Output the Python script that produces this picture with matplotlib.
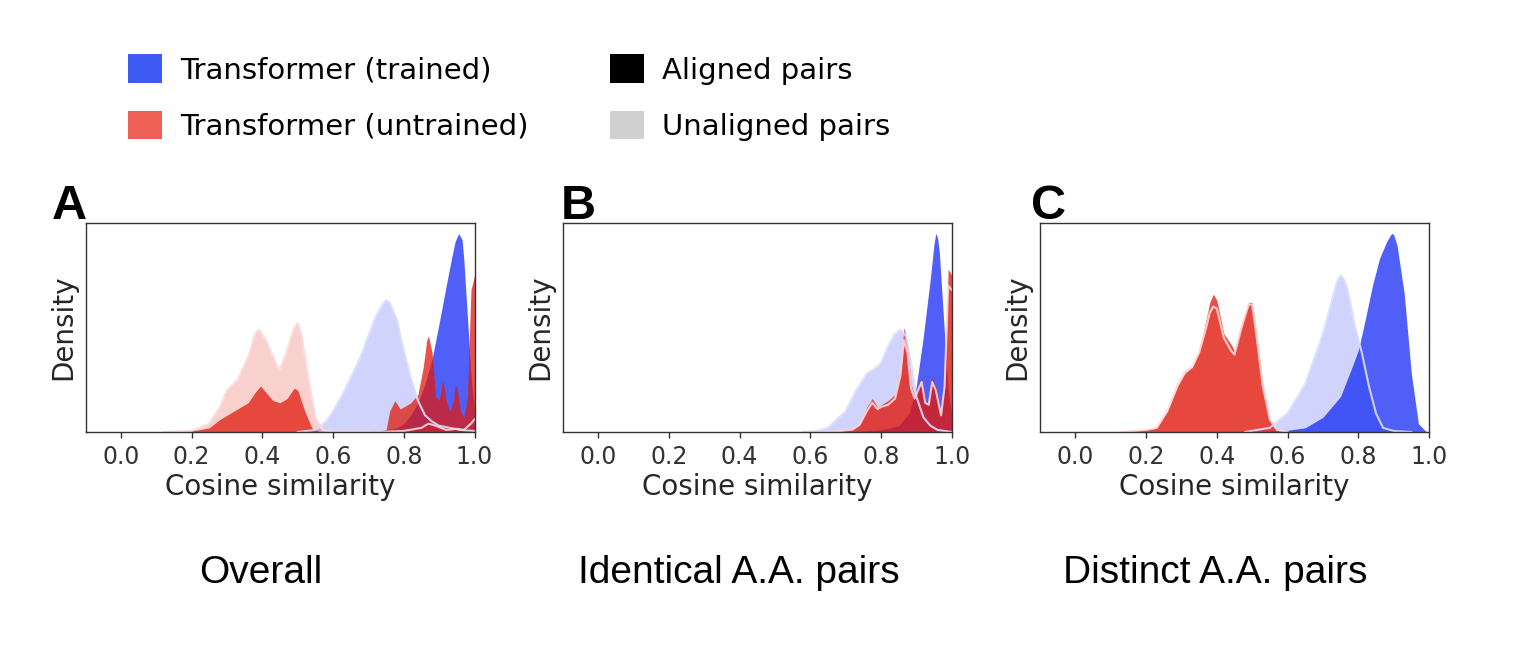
import matplotlib
matplotlib.use("Agg")
import matplotlib.pyplot as plt
from matplotlib.patches import Patch

# density curves, heights as % of axis height
# panel A: overall
a_trained_aligned_x = [0.62, 0.70, 0.74, 0.78, 0.80, 0.82, 0.84, 0.86, 0.88, 0.90, 0.92, 0.935, 0.945, 0.955, 0.965, 0.97, 0.98, 0.99, 1.0]
a_trained_aligned_y = [0, 0.3, 0.8, 2, 4, 8, 14, 23, 35, 52, 70, 83, 91, 95, 92, 82, 55, 28, 10]
a_trained_unaligned_x = [0.50, 0.55, 0.58, 0.60, 0.63, 0.65, 0.68, 0.70, 0.72, 0.74, 0.75, 0.76, 0.78, 0.80, 0.82, 0.84, 0.86, 0.88, 0.90, 0.93, 0.96, 1.0]
a_trained_unaligned_y = [0, 1, 5, 10, 19, 26, 37, 46, 55, 61, 63, 62, 54, 39, 26, 15, 8, 5, 3, 2, 1, 0.5]
a_untrained_aligned_x = [0.12, 0.18, 0.22, 0.25, 0.28, 0.30, 0.33, 0.36, 0.38, 0.395, 0.41, 0.43, 0.45, 0.47, 0.49, 0.50, 0.52, 0.54, 0.56, 0.60,
                         0.70, 0.74, 0.75, 0.76, 0.775, 0.79, 0.80, 0.82, 0.84, 0.855, 0.865, 0.87, 0.88, 0.89, 0.90, 0.91, 0.92, 0.93,
                         0.94, 0.945, 0.95, 0.96, 0.97, 0.98, 0.99, 1.0]
a_untrained_aligned_y = [0, 0.3, 1, 2, 6, 8, 11, 14, 19, 22, 19, 15, 14, 16, 21, 20, 10, 2, 0.3, 0,
                         0.2, 0.5, 1, 10, 15, 11, 12, 14, 18, 31, 44, 46, 38, 17, 15, 25, 15, 10,
                         14, 22, 22, 10, 7, 17, 68, 75]
a_untrained_unaligned_x = [0.12, 0.20, 0.25, 0.28, 0.30, 0.33, 0.36, 0.38, 0.39, 0.41, 0.44, 0.45, 0.47, 0.49, 0.50, 0.51, 0.53, 0.55, 0.57, 0.60,
                           0.75, 0.80, 0.85, 0.87, 0.89, 0.92, 0.95, 0.97, 0.99, 1.0]
a_untrained_unaligned_y = [0, 0.5, 4, 12, 20, 25, 36, 47, 49, 44, 32, 30, 39, 50, 52, 47, 26, 7, 1, 0,
                           0.2, 0.5, 2, 4, 3, 1, 1.5, 1, 4, 6]

# panel B: identical A.A. pairs
b_trained_aligned_x = [0.70, 0.75, 0.80, 0.85, 0.88, 0.90, 0.92, 0.94, 0.95, 0.955, 0.96, 0.965, 0.98, 0.99, 1.0]
b_trained_aligned_y = [0, 0.5, 1, 3, 9, 22, 46, 74, 90, 95, 93, 86, 46, 20, 8]
b_trained_unaligned_x = [0.58, 0.62, 0.65, 0.70, 0.73, 0.76, 0.78, 0.80, 0.82, 0.84, 0.855, 0.87, 0.88, 0.90, 0.92, 0.94, 0.96, 1.0]
b_trained_unaligned_y = [0, 0.5, 2, 10, 20, 28, 30, 33, 41, 47, 49, 46, 38, 17, 7, 3, 1, 0]
b_untrained_x = [0.62, 0.68, 0.72, 0.74, 0.76, 0.775, 0.79, 0.80, 0.82, 0.84, 0.855, 0.865, 0.875, 0.885, 0.895, 0.905,
                 0.915, 0.925, 0.935, 0.945, 0.955, 0.97, 0.98, 0.99, 1.0]
b_untrained_aligned_y = [0, 0.5, 1.5, 4, 12, 16, 12, 13, 15, 18, 30, 50, 42, 23, 17, 22,
                         26, 15, 14, 26, 22, 9, 26, 78, 75]
b_untrained_unaligned_y = [0, 0.4, 1.2, 3.5, 10, 14, 11, 12, 13, 16, 27, 44, 38, 21, 16, 20,
                           24, 14, 13, 24, 20, 8, 22, 70, 68]

# panel C: distinct A.A. pairs
c_trained_aligned_x = [0.50, 0.60, 0.65, 0.70, 0.75, 0.78, 0.80, 0.82, 0.84, 0.86, 0.88, 0.89, 0.895, 0.90, 0.91, 0.93, 0.95, 0.97, 0.99, 1.0]
c_trained_aligned_y = [0, 0.8, 2, 7, 17, 30, 39, 54, 70, 83, 91, 94, 95, 94.5, 89, 66, 28, 4, 0.5, 0]
c_trained_unaligned_x = [0.48, 0.55, 0.60, 0.65, 0.70, 0.73, 0.74, 0.75, 0.76, 0.77, 0.79, 0.81, 0.83, 0.85, 0.87, 0.90, 0.95]
c_trained_unaligned_y = [0, 2, 9, 23, 47, 66, 72, 75, 73, 68, 51, 38, 22, 9, 2, 0.5, 0]
c_untrained_x = [0.13, 0.20, 0.23, 0.26, 0.29, 0.31, 0.33, 0.35, 0.37, 0.38, 0.39, 0.40, 0.42, 0.44, 0.45, 0.47, 0.49,
                 0.50, 0.51, 0.53, 0.55, 0.57, 0.60]
c_untrained_aligned_y = [0, 1, 2, 10, 22, 28, 31, 39, 54, 62, 66, 63, 47, 42, 39, 52, 62, 62, 50, 23, 6, 1, 0]
c_untrained_unaligned_y = [0, 1, 2, 10, 23, 29, 31, 38, 50, 57, 60, 59, 45, 39, 37, 50, 61, 61, 49, 22, 6, 1, 0]

panel_letters = ["A", "B", "C"]
panel_titles = ["Overall", "Identical A.A. pairs", "Distinct A.A. pairs"]
legend_labels = ["Transformer (trained)", "Transformer (untrained)", "Aligned pairs", "Unaligned pairs"]
xticks = [0.0, 0.2, 0.4, 0.6, 0.8, 1.0]

BLUE = (0.08, 0.16, 0.96)
RED = (0.88, 0.10, 0.05)


def draw_panel(ax, curves):
    # curves: (x, y, color, aligned) drawn in order
    for x, y, color, aligned in curves:
        if aligned:
            ax.fill_between(x, y, color=color, alpha=0.75, linewidth=0)
        else:
            ax.fill_between(x, y, color=color, alpha=0.2, linewidth=0)
            edge = (1, 0.85, 0.85) if color == RED else (0.86, 0.87, 1)
            ax.plot(x, y, color=edge, alpha=0.9, lw=1.5)
    ax.set_xlim(-0.1, 1.0)
    ax.set_ylim(0, 100)
    ax.set_xticks(xticks)
    ax.set_yticks([])
    ax.tick_params(axis="x", labelsize=17, length=4, width=1, pad=5, colors="0.2")
    ax.set_xlabel("Cosine similarity", fontsize=20, color="0.15", labelpad=3)
    ax.set_ylabel("Density", fontsize=20, color="0.15", labelpad=6)
    for s in ax.spines.values():
        s.set_color("0.2")
        s.set_linewidth(1)


fig = plt.figure(figsize=(15.24, 6.70), dpi=100)
W, H = 1524, 670
lefts = [85.5, 562.7, 1040]
axes = [fig.add_axes([l / W, (H - 432) / H, 389 / W, 209 / H]) for l in lefts]

draw_panel(axes[0], [
    (a_trained_unaligned_x, a_trained_unaligned_y, BLUE, False),
    (a_trained_aligned_x, a_trained_aligned_y, BLUE, True),
    (a_untrained_unaligned_x, a_untrained_unaligned_y, RED, False),
    (a_untrained_aligned_x, a_untrained_aligned_y, RED, True),
])
draw_panel(axes[1], [
    (b_trained_unaligned_x, b_trained_unaligned_y, BLUE, False),
    (b_trained_aligned_x, b_trained_aligned_y, BLUE, True),
    (b_untrained_x, b_untrained_unaligned_y, RED, False),
    (b_untrained_x, b_untrained_aligned_y, RED, True),
])
draw_panel(axes[2], [
    (c_trained_unaligned_x, c_trained_unaligned_y, BLUE, False),
    (c_trained_aligned_x, c_trained_aligned_y, BLUE, True),
    (c_untrained_x, c_untrained_unaligned_y, RED, False),
    (c_untrained_x, c_untrained_aligned_y, RED, True),
])

letter_x = [52, 561, 1031]
title_x = [261, 739, 1215]
for i in range(3):
    fig.text(letter_x[i] / W, (H - 219) / H, panel_letters[i], fontsize=35, fontweight="bold",
             family="Liberation Sans", va="baseline", ha="left")
    fig.text(title_x[i] / W, (H - 583) / H, panel_titles[i], fontsize=28,
             family="Liberation Sans", va="baseline", ha="center")

handles = [
    Patch(facecolor="#3d5af5", edgecolor="none"),
    Patch(facecolor="#ee6055", edgecolor="none"),
    Patch(facecolor="black", edgecolor="none"),
    Patch(facecolor="#d0d0d0", edgecolor="none"),
]
fig.legend(handles, legend_labels, ncol=2, loc="upper left", bbox_to_anchor=(128 / W, (H - 54.5) / H),
           frameon=False, fontsize=21, handlelength=1.17, handleheight=1.13, handletextpad=0.62,
           labelspacing=0.89, columnspacing=2.77, borderpad=0, borderaxespad=0)

fig.savefig("out.png", dpi=100)
